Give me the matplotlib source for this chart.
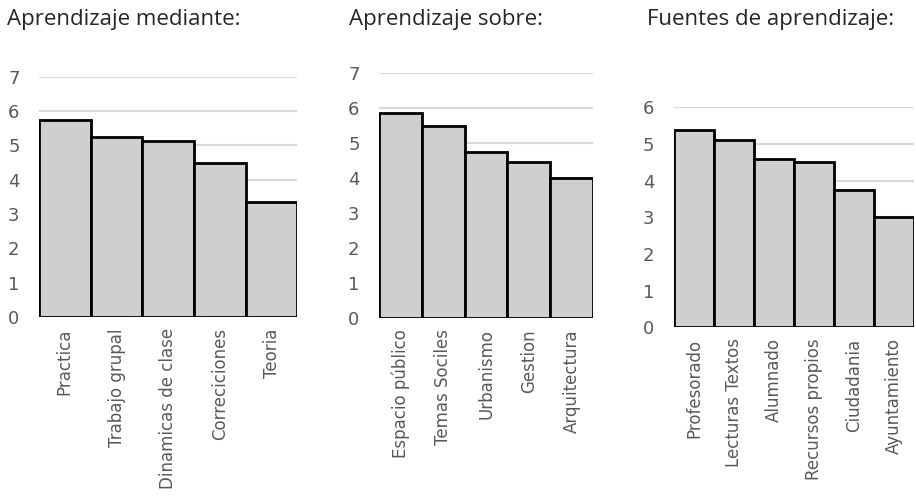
import matplotlib.pyplot as plt

# Aprendizaje mediante
mediante_labels = ["Practica", "Trabajo grupal", "Dinamicas de clase", "Correciciones", "Teoria"]
mediante_values = [5.74, 5.25, 5.13, 4.5, 3.35]

# Aprendizaje sobre
sobre_labels = ["Espacio público", "Temas Sociles", "Urbanismo", "Gestion", "Arquitectura"]
sobre_values = [5.87, 5.49, 4.74, 4.47, 4.0]

# Fuentes de aprendizaje
fuentes_labels = ["Profesorado", "Lecturas Textos", "Alumnado", "Recursos propios", "Ciudadania", "Ayuntamiento"]
fuentes_values = [5.37, 5.11, 4.6, 4.5, 3.74, 3.0]

panels = [
    ("Aprendizaje mediante:", mediante_labels, mediante_values, 7, [0.0426, 0.3647, 0.282, 0.4816], 0.008),
    ("Aprendizaje sobre:", sobre_labels, sobre_values, 7, [0.4138, 0.3621, 0.2336, 0.491], 0.381),
    ("Fuentes de aprendizaje:", fuentes_labels, fuentes_values, 6, [0.7358, 0.344, 0.262, 0.441], 0.706),
]

fig = plt.figure(figsize=(9.16, 4.99), dpi=100)

for title, labels, values, ymax, rect, title_x in panels:
    ax = fig.add_axes(rect)
    x = range(len(values))
    ax.bar(x, values, width=1.0, color="#d0cece", edgecolor="black", linewidth=2.0, zorder=3)
    ax.set_xlim(-0.5, len(values) - 0.5)
    ax.set_ylim(0, ymax)
    ax.set_yticks(range(ymax + 1))
    ax.grid(axis="y", color="#d9d9d9", linewidth=1.5, zorder=0)
    ax.set_axisbelow(True)
    for s in ax.spines.values():
        s.set_visible(False)
    ax.set_xticks(list(x))
    ax.set_xticklabels(labels, rotation=90, fontsize=12, color="#595959")
    ax.tick_params(axis="both", length=0)
    ax.tick_params(axis="y", labelsize=13, labelcolor="#595959", pad=14)
    ax.tick_params(axis="x", pad=8)
    fig.text(title_x, 0.96, title, fontsize=16, color="#262626",
             family="Open Sans", ha="left", va="center")

fig.savefig("out.png", dpi=100)
